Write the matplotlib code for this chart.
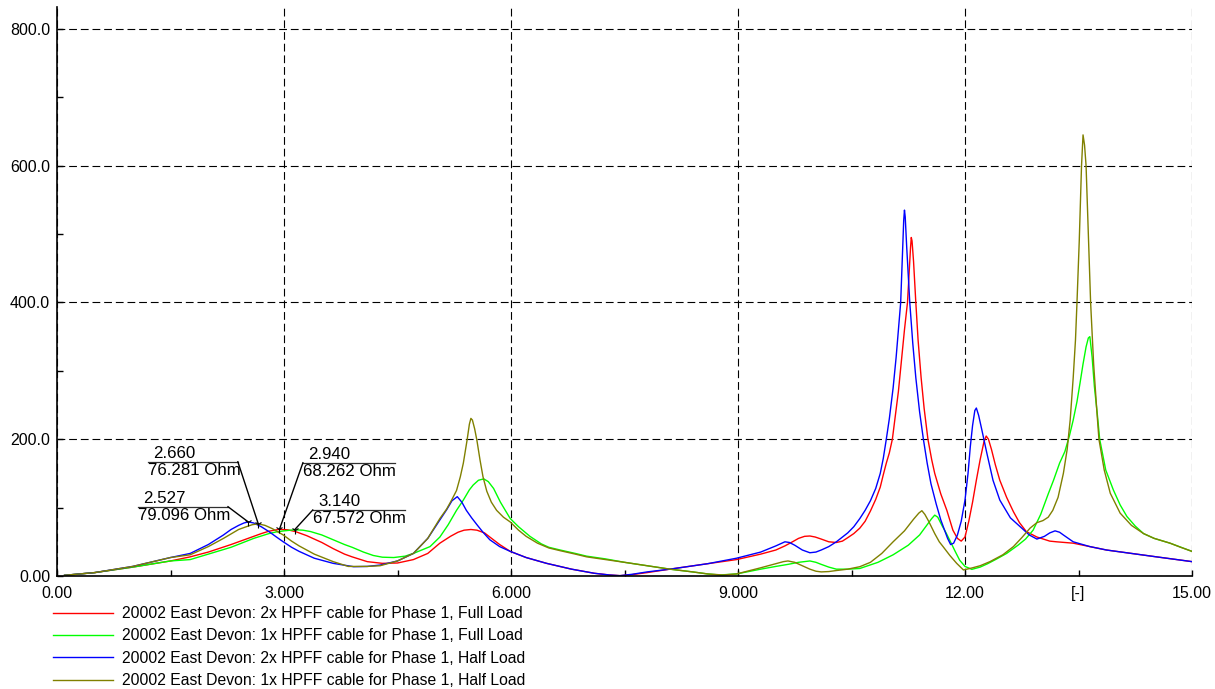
import matplotlib
matplotlib.use("Agg")
import matplotlib.pyplot as plt
from matplotlib.transforms import offset_copy

plt.rcParams['font.family'] = ['Liberation Sans', 'DejaVu Sans']
plt.rcParams['font.size'] = 11.5

# harmonic order [-] vs impedance [Ohm]
h_2x_full = [0.1, 0.5, 1.0, 1.5, 1.76, 2.0, 2.3, 2.6, 2.7, 2.8, 2.94, 3.05, 3.15, 3.3, 3.5, 3.65,
             3.8, 3.9, 4.1, 4.3, 4.5, 4.71, 4.9, 5.06, 5.2, 5.3, 5.38, 5.47, 5.55, 5.65, 5.72,
             5.85, 5.99, 6.2, 6.47, 6.8, 7.1, 7.3, 7.44, 7.6, 7.8, 8.1, 8.6, 8.98, 9.3, 9.5,
             9.62, 9.72, 9.8, 9.88, 9.95, 10.02, 10.1, 10.2, 10.3, 10.38, 10.45, 10.53, 10.61,
             10.68, 10.75, 10.82, 10.88, 10.92, 10.96, 11.0, 11.04, 11.08, 11.12, 11.16, 11.2,
             11.24, 11.26, 11.28, 11.29, 11.3, 11.32, 11.35, 11.38, 11.42, 11.46, 11.51, 11.56,
             11.6, 11.68, 11.76, 11.84, 11.9, 11.95, 12.0, 12.05, 12.1, 12.15, 12.2, 12.25,
             12.28, 12.31, 12.35, 12.4, 12.46, 12.55, 12.64, 12.72, 12.81, 12.95, 13.12, 13.21,
             13.43, 13.65, 13.87, 14.2, 14.53, 14.8, 15.0]
z_2x_full = [1, 5, 13, 22, 28, 35, 46, 58, 62, 65.5, 68.3, 67.5, 65, 59, 49, 40,
             32, 28, 21, 18.5, 19, 24, 33, 48, 58, 64, 67, 68, 67, 63, 57,
             46, 36, 27, 18.5, 10, 4, 1.5, 0.5, 2, 5, 10, 18, 24, 32, 38,
             44, 50, 55, 58, 58.5, 57, 54, 50, 49, 51, 56, 62, 70,
             80, 95, 112, 130, 148, 165, 180, 200, 235, 270, 315, 360,
             400, 440, 480, 495, 490, 460, 400, 345, 290, 245, 200, 170,
             150, 120, 96, 67, 55, 51, 57, 80, 108, 140, 170, 196,
             204.7, 200, 185, 163, 140, 115, 94, 78, 65, 57, 51, 50,
             48, 43, 38, 33, 28, 24, 21]

h_1x_full = [0.1, 0.5, 1.0, 1.5, 1.76, 2.0, 2.3, 2.6, 2.8, 2.9, 3.0, 3.14, 3.25, 3.35, 3.5, 3.65,
             3.8, 3.9, 4.05, 4.18, 4.3, 4.45, 4.6, 4.71, 4.82, 4.93, 5.06, 5.17, 5.28, 5.37, 5.45,
             5.5, 5.57, 5.64, 5.7, 5.77, 5.86, 5.93, 5.99, 6.1, 6.25, 6.4, 6.5, 6.65, 6.85, 7.0,
             7.25, 7.5, 7.8, 8.1, 8.4, 8.6, 8.76, 8.98, 9.3, 9.5, 9.66, 9.8, 9.95, 10.03, 10.1,
             10.2, 10.3, 10.45, 10.61, 10.85, 11.05, 11.25, 11.4, 11.5, 11.56, 11.6, 11.64, 11.7,
             11.75, 11.8, 11.87, 11.93, 12.0, 12.09, 12.2, 12.3, 12.42, 12.55, 12.7, 12.8, 12.9,
             13.0, 13.1, 13.17, 13.25, 13.32, 13.38, 13.43, 13.48, 13.52, 13.56, 13.6, 13.63,
             13.65, 13.68, 13.71, 13.75, 13.78, 13.86, 13.96, 14.05, 14.14, 14.25, 14.36, 14.5,
             14.71, 15.0]
z_1x_full = [1, 5, 13, 22, 24, 32, 42, 55, 62, 64.5, 66, 67.6, 67, 65, 60, 53,
             46, 42, 35, 30, 27.5, 27, 29, 33, 38, 43, 57, 75, 96, 111, 126,
             133, 140, 142, 138, 128, 108, 95, 84, 72, 58, 47, 42, 38, 33, 29,
             25, 20, 15, 10, 6, 3, 1.5, 3, 10, 14, 17, 20, 22, 20, 17,
             13, 10, 10, 11, 20, 31, 45, 60, 75, 84, 89, 86, 73,
             63, 52, 36, 23, 14, 9.7, 13, 18, 25, 33, 45, 54, 67,
             90, 120, 140, 165, 182, 205, 228, 255, 282, 310, 335, 348,
             350, 320, 277, 235, 200, 155, 126, 104, 87, 73, 62, 55,
             48, 36]

h_2x_half = [0.1, 0.5, 1.0, 1.5, 1.76, 2.0, 2.2, 2.3, 2.4, 2.47, 2.527, 2.6, 2.7, 2.8, 2.9, 2.99,
             3.1, 3.2, 3.4, 3.65, 3.92, 4.1, 4.27, 4.5, 4.71, 4.9, 5.06, 5.15, 5.22, 5.29, 5.35,
             5.41, 5.48, 5.55, 5.63, 5.72, 5.85, 5.99, 6.2, 6.47, 6.8, 7.1, 7.3, 7.44, 7.6, 7.8,
             8.1, 8.6, 8.98, 9.3, 9.5, 9.62, 9.68, 9.75, 9.85, 9.95, 10.03, 10.1, 10.2, 10.3,
             10.45, 10.53, 10.61, 10.68, 10.75, 10.82, 10.88, 10.92, 10.96, 11.0, 11.05, 11.09,
             11.12, 11.15, 11.17, 11.19, 11.2, 11.21, 11.23, 11.25, 11.27, 11.31, 11.35, 11.4,
             11.45, 11.5, 11.55, 11.62, 11.68, 11.72, 11.77, 11.81, 11.85, 11.9, 11.95, 12.0,
             12.04, 12.07, 12.1, 12.13, 12.15, 12.18, 12.22, 12.29, 12.37, 12.46, 12.6, 12.73,
             12.85, 12.95, 13.05, 13.12, 13.19, 13.25, 13.3, 13.43, 13.65, 13.87, 14.2, 14.53,
             14.8, 15.0]
z_2x_half = [1, 5, 14, 27, 33, 46, 60, 68, 74, 77.5, 79.1, 77.5, 72, 65, 57, 50,
             42, 36, 26, 18.5, 13.6, 14, 16, 22, 33, 55, 82, 97, 110, 116, 108,
             96, 85, 75, 64, 53, 43, 36, 27, 18.5, 10, 4, 1.5, 0.5, 2.5, 6,
             10, 18, 26, 35, 44, 50, 49, 45, 38, 34, 35, 38, 43, 50,
             63, 72, 84, 96, 110, 128, 150, 172, 200, 230, 275, 320,
             360, 400, 460, 520, 535, 525, 480, 440, 400, 340, 290, 240,
             200, 165, 135, 105, 82, 70, 55, 46, 48, 60, 80, 111,
             150, 189, 220, 242, 245.6, 235, 215, 179, 140, 111, 85, 72,
             60, 54, 58, 63, 66, 64, 60, 50, 43, 38, 33, 28,
             24, 21]

h_1x_half = [0.1, 0.5, 1.0, 1.5, 1.76, 2.0, 2.2, 2.4, 2.5, 2.58, 2.66, 2.75, 2.85, 2.99, 3.1,
             3.2, 3.4, 3.65, 3.85, 4.1, 4.27, 4.5, 4.71, 4.9, 5.06, 5.15, 5.22, 5.28, 5.33, 5.37,
             5.42, 5.45, 5.47, 5.49, 5.52, 5.55, 5.59, 5.63, 5.68, 5.74, 5.81, 5.9, 5.99, 6.1,
             6.2, 6.35, 6.5, 6.65, 6.85, 7.0, 7.25, 7.5, 7.8, 8.1, 8.4, 8.6, 8.8, 8.98, 9.3, 9.5,
             9.6, 9.66, 9.75, 9.85, 9.95, 10.03, 10.1, 10.2, 10.3, 10.45, 10.61, 10.75, 10.9,
             11.05, 11.2, 11.32, 11.39, 11.43, 11.47, 11.52, 11.6, 11.66, 11.71, 11.8, 11.89,
             11.98, 12.1, 12.2, 12.33, 12.5, 12.64, 12.75, 12.86, 12.95, 13.03, 13.1, 13.16,
             13.23, 13.3, 13.35, 13.39, 13.43, 13.46, 13.48, 13.51, 13.54, 13.56, 13.58, 13.6,
             13.63, 13.66, 13.7, 13.74, 13.77, 13.84, 13.92, 14.05, 14.2, 14.36, 14.5, 14.71,
             14.85, 15.0]
z_1x_half = [1, 5, 14, 27, 31, 43, 55, 68, 72, 75, 76.3, 74, 69, 60, 51,
             44, 32, 21, 14, 14, 15, 22, 33, 55, 84, 98, 112, 125, 145, 165,
             199, 222, 230.5, 228, 215, 198, 170, 145, 124, 108, 96, 86, 79, 67,
             58, 48, 41, 37, 32, 28, 24, 20, 15, 10, 6, 3, 1.5, 3, 12, 18,
             21, 22, 20, 15, 10, 7, 6, 6.5, 8, 10, 13.6, 20, 33,
             50, 66, 83, 92, 95.5, 90, 80, 62, 50, 43, 30, 18.5,
             8.8, 12, 15, 21, 31, 43, 56, 70, 78, 81, 86, 96,
             115, 150, 185, 228, 290, 345, 400, 490, 600, 645, 630, 600,
             500, 400, 310, 245, 200, 155, 121, 92, 74, 62, 55, 48,
             42, 36]

labels = ["20002 East Devon: 2x HPFF cable for Phase 1, Full Load",
          "20002 East Devon: 1x HPFF cable for Phase 1, Full Load",
          "20002 East Devon: 2x HPFF cable for Phase 1, Half Load",
          "20002 East Devon: 1x HPFF cable for Phase 1, Half Load"]
colors = ['#ff0000', '#00ff00', '#0000ff', '#808000']

# marked points
mark_h = [2.527, 2.660, 2.940, 3.140]
mark_z = [79.096, 76.281, 68.262, 67.572]

fig = plt.figure(figsize=(12.15, 6.89), dpi=100)
ax = fig.add_axes([57 / 1215, 1 - 576 / 689, (1192 - 57) / 1215, (576 - 7) / 689])

series = [(h_2x_full, z_2x_full), (h_1x_full, z_1x_full),
          (h_2x_half, z_2x_half), (h_1x_half, z_1x_half)]
for (h, z), lab, c in zip(series, labels, colors):
    ax.plot(h, z, color=c, lw=1.0, label=lab, zorder=3)

ax.set_xlim(0, 15)
ax.set_ylim(0, 832)

ax.set_xticks([0, 3, 6, 9, 12, 15])
ax.set_xticklabels(['0.00', '3.000', '6.000', '9.000', '12.00', '15.00'])
ax.set_xticks([1.5, 4.5, 7.5, 10.5, 13.5], minor=True)
ax.set_xticklabels(['', '', '', '', '[-]'], minor=True)
ax.set_yticks([0, 200, 400, 600, 800])
ax.set_yticklabels(['0.00', '200.0', '400.0', '600.0', '800.0'])
ax.set_yticks([100, 300, 500, 700], minor=True)
ax.tick_params(which='both', direction='in', length=4, width=1, color='black')
ax.tick_params(axis='x', which='both', pad=7)
ax.tick_params(axis='y', which='both', pad=5)

ax.grid(True, which='major', color='black', lw=0.8, ls=(0, (7, 3.5)))
for s in ['top', 'right']:
    ax.spines[s].set_visible(False)
for s in ['left', 'bottom']:
    ax.spines[s].set_linewidth(1.2)
    ax.spines[s].set_zorder(4)

# annotation boxes: (left end, right end, line height, leader from which end)
boxes = [(1.07, 2.26, 101.3, 'right'),
         (1.20, 2.39, 167.0, 'right'),
         (3.25, 4.47, 165.6, 'left'),
         (3.38, 4.60, 96.5, 'left')]
up = offset_copy(ax.transData, fig=fig, x=0, y=1, units='dots')
down = offset_copy(ax.transData, fig=fig, x=0, y=-1, units='dots')
for (x0, x1, yl, side), mh, mz in zip(boxes, mark_h, mark_z):
    ax.plot([x0, x1], [yl, yl], color='#303030', lw=0.9, zorder=5)
    xe = x1 if side == 'right' else x0
    ax.plot([xe, mh], [yl, mz], color='black', lw=1.0, zorder=5)
    ax.plot([mh], [mz], marker='1', ms=6, color='black', mew=0.8, zorder=6)
    ax.text(x0 + 0.07, yl, '%.3f' % mh, ha='left', va='bottom', transform=up,
            fontsize=12.2, zorder=6)
    ax.text(x0, yl, '%.3f Ohm' % mz, ha='left', va='top', transform=down,
            fontsize=12.2, zorder=6)

fig.legend(loc='upper left', bbox_to_anchor=(53 / 1215, 1 - 606 / 689),
           frameon=False, handlelength=3.8, handletextpad=0.57, labelspacing=0.47,
           borderpad=0, borderaxespad=0, fontsize=11.3)

fig.savefig('out.png', dpi=100)
